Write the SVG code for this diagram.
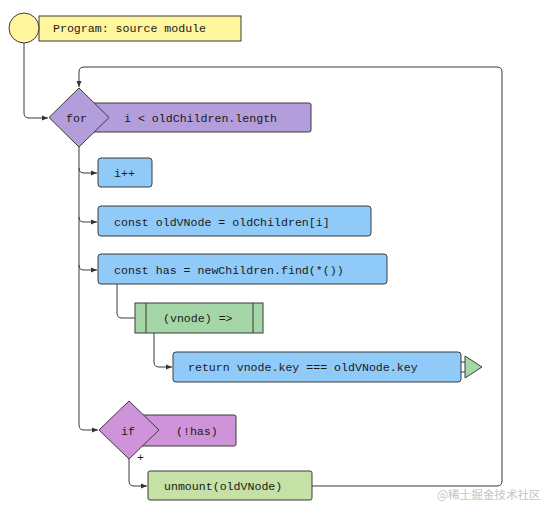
<svg xmlns="http://www.w3.org/2000/svg" width="555" height="515" viewBox="0 0 555 515">
<defs>
<style>
.t{font-family:"Liberation Mono","DejaVu Sans Mono",monospace;font-size:11.6px;fill:#1a1a1a}
.e{stroke:#3a3a3a;stroke-width:1;fill:none}
.b{stroke:#3a3a3a;stroke-width:1}
</style>
<marker id="ar" markerWidth="8" markerHeight="8" refX="7" refY="4" orient="auto" markerUnits="userSpaceOnUse">
<path d="M1,1.5 L7,4 L1,6.5 Z" fill="#333"/>
</marker>
</defs>
<rect width="555" height="515" fill="#fff"/>
<g id="connectors">
<path class="e" d="M24,42 V113 Q24,118 29,118 H48" marker-end="url(#ar)"/>
<path class="e" d="M312,486 H497 Q502,486 502,481 V72 Q502,67 497,67 H84 Q79,67 79,72 V87" marker-end="url(#ar)"/>
<path class="e" d="M79,147 V425 Q79,430 84,430 H98" marker-end="url(#ar)"/>
<path class="e" d="M79,168 Q79,173 84,173 H97" marker-end="url(#ar)"/>
<path class="e" d="M79,217 Q79,222 84,222 H97" marker-end="url(#ar)"/>
<path class="e" d="M79,265 Q79,270 84,270 H97" marker-end="url(#ar)"/>
<path class="e" d="M117,284 V313 Q117,318 122,318 H135"/>
<path class="e" d="M154,333 V362 Q154,367 159,367 H172" marker-end="url(#ar)"/>
<path class="e" d="M129,459 V481 Q129,486 134,486 H147" marker-end="url(#ar)"/>
</g>
<g id="program">
<rect x="39" y="16" width="202" height="25" fill="#FFF59D" class="b"/>
<text class="t" x="53" y="32">Program: source module</text>
</g>
<g id="start">
<circle cx="24" cy="28" r="15" fill="#FFF59D" class="b"/>
</g>
<g id="for">
<rect x="82" y="103" width="229" height="29" rx="2" fill="#B39DDB" class="b"/>
<path d="M79,88 L109,117.5 L79,147 L49,117.5 Z" fill="#B39DDB" class="b"/>
<text class="t" x="66" y="122">for</text>
<text class="t" x="124" y="122">i &lt; oldChildren.length</text>
</g>
<g id="inc">
<rect x="98" y="158" width="54" height="29" rx="3" fill="#90CAF9" class="b"/>
<text class="t" x="114" y="177">i++</text>
</g>
<g id="oldvnode">
<rect x="98" y="206" width="273" height="30" rx="3" fill="#90CAF9" class="b"/>
<text class="t" x="114" y="226">const oldVNode = oldChildren[i]</text>
</g>
<g id="has">
<rect x="98" y="254" width="289" height="30" rx="3" fill="#90CAF9" class="b"/>
<text class="t" x="114" y="274">const has = newChildren.find(*())</text>
</g>
<g id="arrowfn">
<rect x="135" y="303" width="128" height="30" fill="#A5D6A7" class="b"/>
<path class="e" d="M146,303 V333 M253,303 V333"/>
<text class="t" x="163" y="322">(vnode) =&gt;</text>
</g>
<g id="return">
<rect x="173" y="352" width="288" height="30" rx="3" fill="#90CAF9" class="b"/>
<text class="t" x="188" y="371">return vnode.key === oldVNode.key</text>
<path class="e" d="M461,362 H465 M461,372 H465"/>
<path d="M465,356 L482,367 L465,378 Z" fill="#A5D6A7" class="b"/>
</g>
<g id="if">
<rect x="132" y="415" width="104" height="31" rx="2" fill="#CE93D8" class="b"/>
<path d="M129,401 L159,430 L129,459 L99,430 Z" fill="#CE93D8" class="b"/>
<text class="t" x="121" y="435">if</text>
<text class="t" x="176" y="435">(!has)</text>
<text class="t" x="137" y="461">+</text>
</g>
<g id="unmount">
<rect x="148" y="471" width="164" height="29" rx="2" fill="#C5E1A5" class="b"/>
<text class="t" x="164" y="490">unmount(oldVNode)</text>
</g>
<text x="437" y="499" font-family="'Noto Sans CJK SC',sans-serif" font-size="11.6" fill="#c4c4c4">@稀土掘金技术社区</text>
</svg>
